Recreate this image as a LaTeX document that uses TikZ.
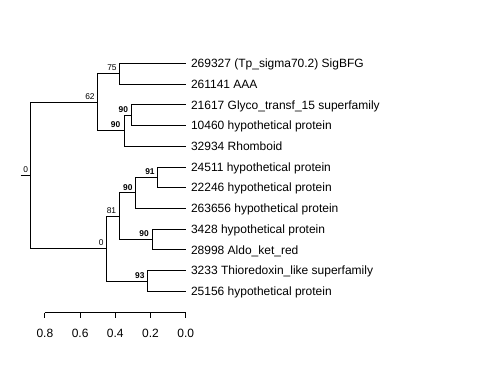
\documentclass[tikz,border=0pt]{standalone}
\usepackage{fontspec}
\setmainfont{Liberation Sans}
\begin{document}
\begin{tikzpicture}[x=1pt,y=-1pt,
  edge/.style={line width=0.9pt, black},
  leaf/.style={anchor=west, inner xsep=5.3pt, inner ysep=0pt, outer sep=0pt,
    text height=8.6pt, text depth=0pt, font=\fontsize{12}{14}\selectfont},
  bs/.style={anchor=south east, inner sep=0pt, font=\fontsize{8.4}{10}\selectfont},
  bsb/.style={anchor=south east, inner sep=0pt, font=\fontsize{8.4}{10}\selectfont\bfseries},
  ticklab/.style={anchor=center, inner sep=0pt, text height=8.6pt, text depth=0pt,
    font=\fontsize{12}{14}\selectfont}]
\useasboundingbox[fill=white] (0,0) rectangle (480,384);

% leaves
\node[leaf] (L1)  at (185.7,63.3)  {269327 (Tp\_sigma70.2) SigBFG};
\node[leaf] (L2)  at (185.7,84.03) {261141 AAA};
\node[leaf] (L3)  at (185.7,104.76) {21617 Glyco\_transf\_15 superfamily};
\node[leaf] (L4)  at (185.7,125.49) {10460 hypothetical protein};
\node[leaf] (L5)  at (185.7,146.22) {32934 Rhomboid};
\node[leaf] (L6)  at (185.7,166.95) {24511 hypothetical protein};
\node[leaf] (L7)  at (185.7,187.68) {22246 hypothetical protein};
\node[leaf] (L8)  at (185.7,208.41) {263656 hypothetical protein};
\node[leaf] (L9)  at (185.7,229.14) {3428 hypothetical protein};
\node[leaf] (L10) at (185.7,249.87) {28998 Aldo\_ket\_red};
\node[leaf] (L11) at (185.7,270.6)  {3233 Thioredoxin\_like superfamily};
\node[leaf] (L12) at (185.7,291.3)  {25156 hypothetical protein};

% internal nodes
\coordinate (a75)  at (119.3,73.67);
\coordinate (a90u) at (131.7,115.1);
\coordinate (a90l) at (124.0,130.7);
\coordinate (a62)  at (97.3,102.2);
\coordinate (a91)  at (157.3,177.3);
\coordinate (a90m) at (135.7,192.9);
\coordinate (a90b) at (152.0,239.5);
\coordinate (a81)  at (119.3,216.2);
\coordinate (a93)  at (147.7,280.95);
\coordinate (a0b)  at (106.3,248.6);
\coordinate (root) at (30.7,175.4);
\coordinate (stem) at (20.7,175.4);

% edges
\draw[edge] (stem) -- (root);
\draw[edge] (root) |- (a62);
\draw[edge] (root) |- (a0b);
\draw[edge] (a62) |- (a75);
\draw[edge] (a62) |- (a90l);
\draw[edge] (a75) |- (L1.west);
\draw[edge] (a75) |- (L2.west);
\draw[edge] (a90l) |- (a90u);
\draw[edge] (a90l) |- (L5.west);
\draw[edge] (a90u) |- (L3.west);
\draw[edge] (a90u) |- (L4.west);
\draw[edge] (a0b) |- (a81);
\draw[edge] (a0b) |- (a93);
\draw[edge] (a81) |- (a90m);
\draw[edge] (a81) |- (a90b);
\draw[edge] (a90m) |- (a91);
\draw[edge] (a90m) |- (L8.west);
\draw[edge] (a91) |- (L6.west);
\draw[edge] (a91) |- (L7.west);
\draw[edge] (a90b) |- (L9.west);
\draw[edge] (a90b) |- (L10.west);
\draw[edge] (a93) |- (L11.west);
\draw[edge] (a93) |- (L12.west);

% support labels
\node[bs]  (s75)  at ([xshift=-2.5pt,yshift=2.5pt]a75)  {75};
\node[bs]  (s62)  at ([xshift=-2.5pt,yshift=2.5pt]a62)  {62};
\node[bsb] (s90u) at ([xshift=-3.5pt,yshift=2.5pt]a90u) {90};
\node[bsb] (s90l) at ([xshift=-3.5pt,yshift=2.5pt]a90l) {90};
\node[bs]  (s0r)  at ([xshift=-2.5pt,yshift=2.5pt]root) {0};
\node[bsb] (s91)  at ([xshift=-2.5pt,yshift=2.5pt]a91)  {91};
\node[bsb] (s90m) at ([xshift=-3pt,yshift=2.5pt]a90m) {90};
\node[bs]  (s81)  at ([xshift=-3pt,yshift=2.5pt]a81)  {81};
\node[bsb] (s90b) at ([xshift=-3pt,yshift=2.5pt]a90b) {90};
\node[bs]  (s0b)  at ([xshift=-2.5pt,yshift=2.5pt]a0b)  {0};
\node[bsb] (s93)  at ([xshift=-3pt,yshift=2.5pt]a93)  {93};

% axis
\coordinate (ax0) at (185.7,312.7);
\coordinate (ax1) at (150.5,312.7);
\coordinate (ax2) at (115.3,312.7);
\coordinate (ax3) at (80.1,312.7);
\coordinate (ax4) at (44.9,312.7);
\draw[edge] (ax4) -- (ax0);
\foreach \c/\t in {ax0/0.0,ax1/0.2,ax2/0.4,ax3/0.6,ax4/0.8}{
  \draw[edge] (\c) -- ++(0,5.5);
  \node[ticklab] (lab\c) at ([yshift=-20pt]\c) {\t};
}
\end{tikzpicture}
\end{document}
